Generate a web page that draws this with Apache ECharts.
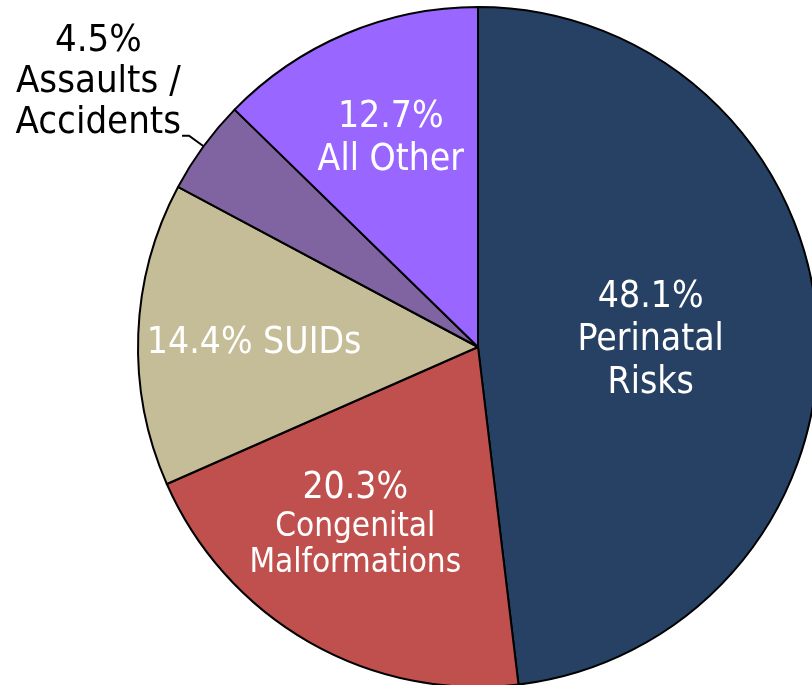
<!DOCTYPE html>
<html>
<head>
<meta charset="utf-8">
<script src="https://cdn.jsdelivr.net/npm/echarts@6/dist/echarts.min.js"></script>
<style>
  html, body { margin: 0; padding: 0; background: #fff; }
  #chart { width: 812px; height: 685px; }
</style>
</head>
<body>
<div id="chart"></div>
<script>
// slices, clockwise from 12 o'clock
const categories = ['Perinatal Risks', 'Congenital Malformations', 'SUIDs', 'Assaults / Accidents', 'All Other']
const values = [48.1, 20.3, 14.4, 4.5, 12.7]
const labelTexts = [
  '{a|48.1%}\n{a|Perinatal}\n{a|Risks}',
  '{a|20.3%}\n{s|Congenital}\n{s|Malformations}',
  '{a|14.4% SUIDs}',
  '{k|4.5%}\n{k|Assaults /}\n{k|Accidents}',
  '{a|12.7%}\n{a|All Other}'
]
const colors = ['#264163', '#C0504D', '#C4BD97', '#8064A2', '#9966FF']

let myChart = echarts.init(document.getElementById('chart'))

// label nudges, by slice index
const nudge = [
  { dx: 0, dy: 4 },
  { dx: -37, dy: 27 },
  { dx: -51, dy: 3 },
  null,
  { dx: -20, dy: -49 }
]

const font = '"DejaVu Sans Condensed", "DejaVu Sans", sans-serif'

myChart.setOption({
  animation: false,
  series: [
    {
      type: 'pie',
      center: [478, 347],
      radius: [0, 340],
      startAngle: 90,
      clockwise: true,
      itemStyle: { borderColor: '#000', borderWidth: 2 },
      label: {
        position: 'inside',
        formatter: p => labelTexts[p.dataIndex],
        rich: {
          a: { fontFamily: font, fontSize: 37, color: '#fff', lineHeight: 43 },
          s: { fontFamily: font, fontSize: 33, color: '#fff', lineHeight: 36 },
          k: { fontFamily: font, fontSize: 38, color: '#000', lineHeight: 41, align: 'center' }
        }
      },
      labelLayout: function(params) {
        return nudge[params.dataIndex]
      },
      data: categories.map((name, i) => {
        const d = { name: name, value: values[i], itemStyle: { color: colors[i] } }
        if (i === 3) {
          d.label = { position: 'outside', distanceToLabelLine: 1, padding: [0, 0, 108, 0] }
          d.labelLine = { show: true, length: 18, length2: 7, lineStyle: { color: '#000', width: 2 } }
        }
        return d
      })
    }
  ]
})
</script>
</body>
</html>
